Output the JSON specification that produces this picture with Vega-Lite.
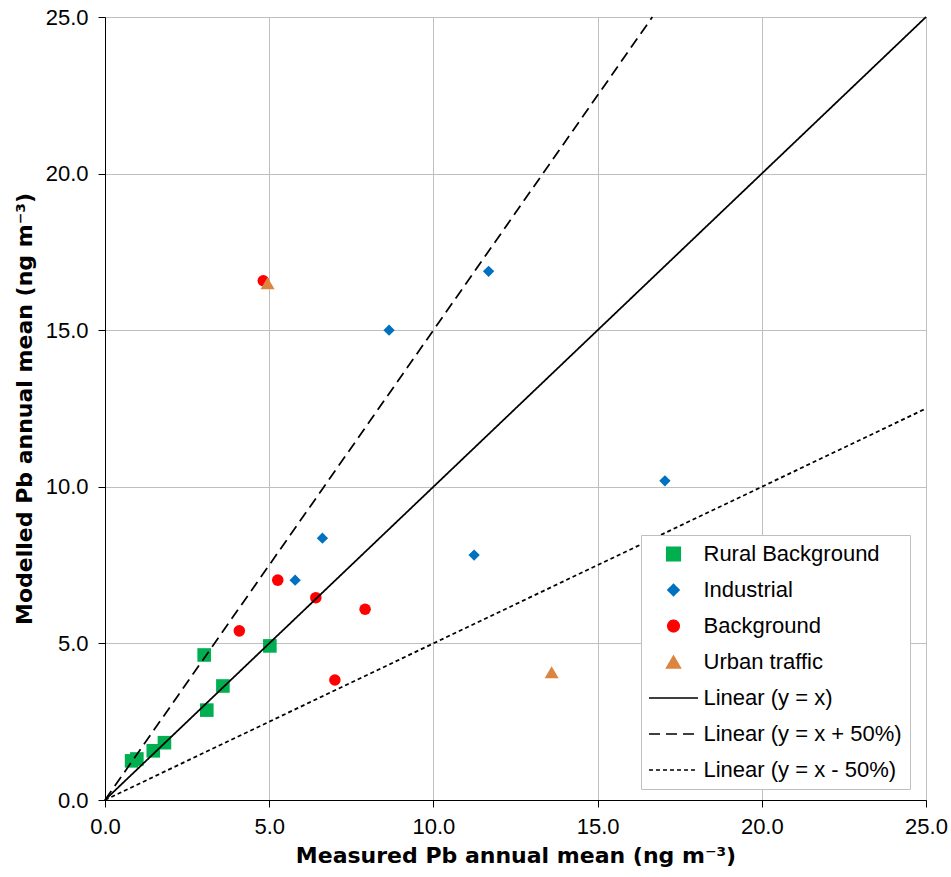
{
  "$schema": "https://vega.github.io/schema/vega-lite/v6.json",
  "width": 821,
  "height": 783,
  "autosize": {"type": "none"},
  "padding": {"left": 105, "top": 17, "right": 25, "bottom": 77},
  "background": "white",
  "config": {
    "view": {"stroke": "black", "strokeWidth": 1},
    "axis": {
      "domainColor": "black",
      "domainWidth": 1,
      "tickColor": "black",
      "tickSize": 7,
      "gridColor": "#BFBFBF",
      "gridWidth": 1,
      "labelFont": "Liberation Sans",
      "labelFontSize": 22,
      "labelColor": "black",
      "labelFlush": false,
      "labelOverlap": false,
      "titleFont": "DejaVu Sans",
      "titleFontSize": 22,
      "titleFontWeight": "bold",
      "titleColor": "black"
    },
    "legend": {
      "labelFont": "Liberation Sans",
      "labelFontSize": 22,
      "labelColor": "black",
      "labelLimit": 0,
      "padding": 8,
      "rowPadding": 14,
      "symbolOffset": 13.5,
      "labelOffset": 19,
      "fillColor": "white",
      "strokeColor": "#BFBFBF"
    }
  },
  "datasets": {
    "points": [
      {"series": "Rural Background", "measured": 0.81, "modelled": 1.25},
      {"series": "Rural Background", "measured": 0.97, "modelled": 1.31},
      {"series": "Rural Background", "measured": 1.47, "modelled": 1.57},
      {"series": "Rural Background", "measured": 1.81, "modelled": 1.83},
      {"series": "Rural Background", "measured": 3.02, "modelled": 4.63},
      {"series": "Rural Background", "measured": 3.10, "modelled": 2.87},
      {"series": "Rural Background", "measured": 3.59, "modelled": 3.64},
      {"series": "Rural Background", "measured": 5.02, "modelled": 4.92},
      {"series": "Industrial", "measured": 11.68, "modelled": 16.88},
      {"series": "Industrial", "measured": 8.65, "modelled": 15.0},
      {"series": "Industrial", "measured": 6.62, "modelled": 8.36},
      {"series": "Industrial", "measured": 5.79, "modelled": 7.02},
      {"series": "Industrial", "measured": 11.24, "modelled": 7.82},
      {"series": "Industrial", "measured": 17.05, "modelled": 10.19},
      {"series": "Background", "measured": 4.82, "modelled": 16.58},
      {"series": "Background", "measured": 5.26, "modelled": 7.02},
      {"series": "Background", "measured": 6.42, "modelled": 6.46},
      {"series": "Background", "measured": 7.92, "modelled": 6.09},
      {"series": "Background", "measured": 4.09, "modelled": 5.40},
      {"series": "Background", "measured": 7.00, "modelled": 3.83},
      {"series": "Urban traffic", "measured": 4.95, "modelled": 16.50},
      {"series": "Urban traffic", "measured": 13.60, "modelled": 4.08}
    ],
    "lines": [
      {"series": "Linear (y = x)", "measured": 0, "modelled": 0},
      {"series": "Linear (y = x)", "measured": 25, "modelled": 25},
      {"series": "Linear (y = x + 50%)", "measured": 0, "modelled": 0},
      {"series": "Linear (y = x + 50%)", "measured": 16.667, "modelled": 25},
      {"series": "Linear (y = x - 50%)", "measured": 0, "modelled": 0},
      {"series": "Linear (y = x - 50%)", "measured": 25, "modelled": 12.5}
    ]
  },
  "layer": [
    {
      "data": {"name": "points"},
      "mark": {"type": "point", "filled": true, "opacity": 1},
      "encoding": {
        "x": {
          "field": "measured",
          "type": "quantitative",
          "scale": {"domain": [0, 25], "nice": false},
          "axis": {"values": [0, 5, 10, 15, 20, 25], "format": ".1f", "labelPadding": 9, "titlePadding": 8},
          "title": "Measured Pb annual mean (ng m⁻³)"
        },
        "y": {
          "field": "modelled",
          "type": "quantitative",
          "scale": {"domain": [0, 25], "nice": false},
          "axis": {"values": [0, 5, 10, 15, 20, 25], "format": ".1f", "labelPadding": 10, "titlePadding": 9},
          "title": "Modelled Pb annual mean (ng m⁻³)"
        },
        "color": {
          "field": "series",
          "type": "nominal",
          "scale": {
            "domain": ["Rural Background", "Industrial", "Background", "Urban traffic", "Linear (y = x)", "Linear (y = x + 50%)", "Linear (y = x - 50%)"],
            "range": ["#00B050", "#0070C0", "#FF0000", "#DB8540", "#000000", "#000000", "#000000"]
          },
          "legend": {"title": null, "orient": "none", "legendX": 536, "legendY": 518}
        },
        "shape": {
          "field": "series",
          "type": "nominal",
          "scale": {
            "domain": ["Rural Background", "Industrial", "Background", "Urban traffic", "Linear (y = x)", "Linear (y = x + 50%)", "Linear (y = x - 50%)"],
            "range": ["square", "diamond", "circle", "triangle-up", "M-4.9,0H4.9", "M-4.9,0H4.9", "M-4.9,0H4.9"]
          },
          "legend": {"title": null, "orient": "none", "legendX": 536, "legendY": 518}
        },
        "size": {
          "field": "series",
          "type": "nominal",
          "scale": {
            "type": "ordinal",
            "domain": ["Rural Background", "Industrial", "Background", "Urban traffic", "Linear (y = x)", "Linear (y = x + 50%)", "Linear (y = x - 50%)"],
            "range": [185, 128, 133, 196, 100, 100, 100]
          },
          "legend": {"title": null, "orient": "none", "legendX": 536, "legendY": 518}
        }
      }
    },
    {
      "data": {"name": "lines"},
      "mark": {"type": "line", "strokeWidth": 1.75},
      "encoding": {
        "x": {"field": "measured", "type": "quantitative"},
        "y": {"field": "modelled", "type": "quantitative"},
        "color": {
          "field": "series",
          "type": "nominal",
          "legend": {"title": null, "orient": "none", "legendX": 536, "legendY": 518}
        },
        "strokeDash": {
          "field": "series",
          "type": "nominal",
          "scale": {
            "domain": ["Rural Background", "Industrial", "Background", "Urban traffic", "Linear (y = x)", "Linear (y = x + 50%)", "Linear (y = x - 50%)"],
            "range": [[1, 0], [1, 0], [1, 0], [1, 0], [1, 0], [11, 6], [4, 3]]
          },
          "legend": {"title": null, "orient": "none", "legendX": 536, "legendY": 518}
        }
      }
    }
  ]
}
